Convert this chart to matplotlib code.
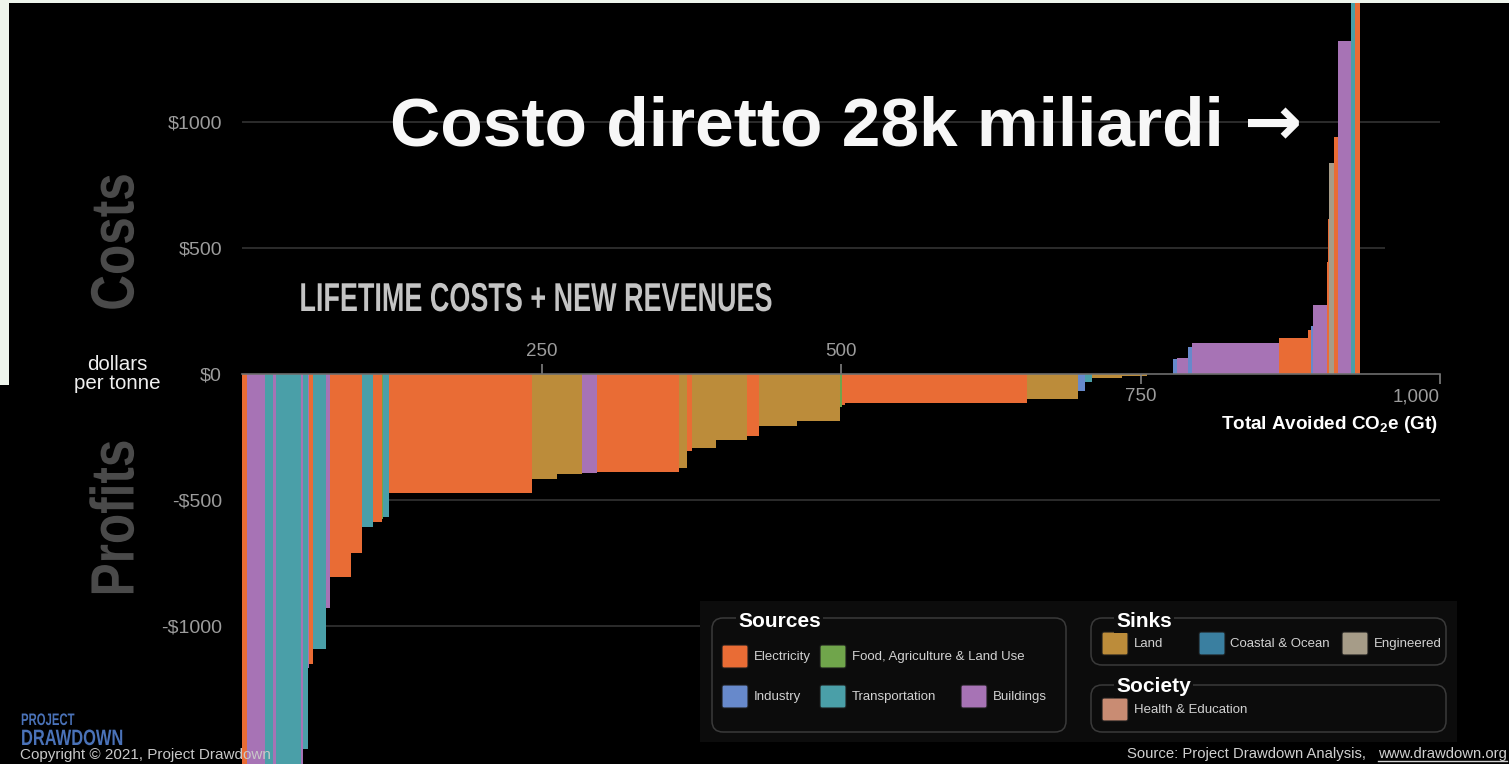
import numpy as np
import matplotlib
matplotlib.use("Agg")
import matplotlib.pyplot as plt
from matplotlib.patches import Rectangle, FancyBboxPatch
from matplotlib.lines import Line2D
from matplotlib.patheffects import AbstractPathEffect
from matplotlib.transforms import Affine2D

# ---------------------------------------------------------------- data
# Solutions ordered by net lifetime cost per tonne, each bar as wide as the
# CO2e it avoids (Gt) and as tall as its net cost in dollars per tonne.
categories = [
    "Electricity", "Buildings", "Transportation", "Buildings", "Transportation", "Buildings",
    "Transportation", "Buildings", "Electricity", "Transportation", "Buildings", "Electricity",
    "Electricity", "Transportation", "Electricity", "Food, Agriculture & Land Use", "Transportation",
    "Electricity", "Land", "Land", "Buildings", "Electricity", "Land", "Electricity", "Land", "Land",
    "Electricity", "Land", "Land", "Food, Agriculture & Land Use", "Electricity", "Electricity", "Land",
    "Industry", "Transportation", "Land", "Land", "Health & Education", "Industry", "Buildings",
    "Industry", "Buildings", "Electricity", "Electricity", "Industry", "Buildings", "Electricity",
    "Electricity", "Engineered", "Electricity", "Buildings", "Transportation", "Electricity",
]
avoided_gt = [
    4.4, 14.8, 6.9, 2.0, 20.9, 2.2, 3.9, 1.1, 3.3, 10.4, 3.6, 17.5, 8.9, 9.2, 7.5, 1.3, 5.1,
    119.3, 20.4, 21.4, 12.5, 68.4, 6.7, 3.7, 20.3, 26.1, 10.0, 31.2, 36.2, 1.4, 2.7, 151.7, 42.6,
    6.1, 6.1, 24.5, 20.9, 21.7, 3.3, 9.4, 3.1, 73.2, 24.2, 2.3, 1.9, 11.1, 1.4, 0.8, 4.2, 3.3,
    10.6, 3.4, 4.1,
]
net_cost_per_tonne = [
    -2100, -2300, -2000, -1900, -2200, -1800, -1492, -1168, -1154, -1095, -929, -808, -711,
    -611, -588, -576, -569, -476, -419, -399, -394, -390, -375, -306, -297, -264, -248, -207,
    -187, -134, -125, -117, -101, -68, -35, -17, -11, 0, 56, 62, 105, 122, 140, 174, 187, 270,
    443, 615, 834, 937, 1321, 1900, 2200,
]

sources = ["Electricity", "Food, Agriculture & Land Use", "Industry", "Transportation", "Buildings"]
sinks = ["Land", "Coastal & Ocean", "Engineered"]
society = ["Health & Education"]

y_ticks = [1000, 500, 0, -500, -1000]
y_tick_labels = [r"\$1000", r"\$500", r"\$0", r"-\$500", r"-\$1000"]
x_ticks_above = [250, 500]
x_ticks_below = [750, 1000]

palette = {
    "Electricity": "#E96C35",
    "Food, Agriculture & Land Use": "#70A54B",
    "Industry": "#6789CB",
    "Transportation": "#4A9FA8",
    "Buildings": "#A773B5",
    "Land": "#BC8C3A",
    "Coastal & Ocean": "#3A7FA0",
    "Engineered": "#A69C88",
    "Health & Education": "#C98C73",
}

# ---------------------------------------------------------------- style
W, H, DPI = 1509, 764, 100
plt.rcParams["font.family"] = ["Liberation Sans", "DejaVu Sans"]
plt.rcParams["mathtext.fontset"] = "custom"
plt.rcParams["mathtext.rm"] = "Liberation Sans:bold"
plt.rcParams["mathtext.it"] = "Liberation Sans:bold"
plt.rcParams["mathtext.bf"] = "Liberation Sans:bold"

GRID = "#383838"
AXIS = "#6e6e6e"
TICK_TXT = "#9c9c9c"
LEG_BG = "#0c0c0c"


class Squeeze(AbstractPathEffect):
    """Scale rendered glyph outlines about the text anchor (condensed type)."""

    def __init__(self, text, sx=1.0, sy=1.0):
        super().__init__()
        self._text, self._sx, self._sy = text, sx, sy

    def draw_path(self, renderer, gc, tpath, affine, rgbFace=None):
        x0, y0 = self._text.get_transform().transform(self._text.get_position())
        squeeze = Affine2D().translate(-x0, -y0).scale(self._sx, self._sy).translate(x0, y0)
        renderer.draw_path(gc, tpath, affine + squeeze, rgbFace)


fig = plt.figure(figsize=(W / DPI, H / DPI), dpi=DPI, facecolor="black")
# pixel coordinates measured from the top-left corner
PIX = Affine2D().scale(1 / DPI, -1 / DPI).translate(0, H / DPI) + fig.dpi_scale_trans

# thin pale frame on the top and left edges
fig.add_artist(Rectangle((0, 0), W, 3, transform=PIX, color="#eef5ec", lw=0))
fig.add_artist(Rectangle((0, 0), 9, 385, transform=PIX, color="#eef5ec", lw=0))

# ---------------------------------------------------------------- axes
zero_px, px_per_dollar = 373.5, 0.252
ax = fig.add_axes([242 / W, 0, 1198 / W, 761 / H])
ax.set_facecolor("black")
ax.set_xlim(0, 1000)
ax.set_ylim(-(H - zero_px) / px_per_dollar, (zero_px - 3) / px_per_dollar)

widths = np.asarray(avoided_gt)
lefts = np.concatenate([[0.0], np.cumsum(widths)[:-1]])
ax.bar(lefts, net_cost_per_tonne, width=widths, align="edge",
       color=[palette[c] for c in categories], linewidth=0, zorder=1)

# horizontal guides
for yv, xmax in [(1000, 1000), (500, 954), (-500, 1000), (-1000, 1000)]:
    ax.hlines(yv, 0, xmax, color=GRID, lw=1.1, zorder=0.5)

for side in ["top", "left", "right"]:
    ax.spines[side].set_visible(False)
ax.spines["bottom"].set_position(("data", 0))
ax.spines["bottom"].set_color(AXIS)
ax.spines["bottom"].set_linewidth(1.2)

ax.set_xticks(x_ticks_below)
ax.set_xticks(x_ticks_above, minor=True)
ax.tick_params(axis="x", which="major", direction="out", length=7.5, width=1.1,
               color="#8a8a8a", labelbottom=False)
ax.tick_params(axis="x", which="minor", direction="in", length=7.5, width=1.1,
               color="#8a8a8a", labelbottom=False)
for xv in x_ticks_above:
    ax.annotate(f"{xv:,}", (xv, 0), xytext=(0, 21.5), textcoords="offset pixels",
                ha="center", va="center", fontsize=13.5, color=TICK_TXT)
for xv in x_ticks_below:
    ax.annotate(f"{xv:,}", (xv, 0), xytext=(0, -23), textcoords="offset pixels",
                ha="right" if xv == max(x_ticks_below) else "center", va="center",
                fontsize=13.5, color=TICK_TXT)

ax.set_yticks(y_ticks)
ax.set_yticklabels(y_tick_labels)
ax.tick_params(axis="y", length=0, pad=14.4, labelsize=14, labelcolor=TICK_TXT)

# ---------------------------------------------------------------- texts
fig.text(1438, 429, r"Total Avoided CO$_2$e (Gt)", transform=PIX, ha="right",
         va="baseline", fontsize=13.6, fontweight="bold", color="white")

fig.text(117, 370, "dollars", transform=PIX, ha="center", va="baseline",
         fontsize=14.8, color="#f0f0f0")
fig.text(117, 389, "per tonne", transform=PIX, ha="center", va="baseline",
         fontsize=14.8, color="#f0f0f0")

for word, cy in [("Costs", 242), ("Profits", 518)]:
    t = fig.text(118, cy, word, transform=PIX, rotation=90, ha="center", va="center",
                 fontsize=44, fontweight="bold", color="#4a4a4a")
    t.set_path_effects([Squeeze(t, sy=0.81)])

t = fig.text(536, 311, "LIFETIME COSTS + NEW REVENUES", transform=PIX, ha="center",
             va="baseline", fontsize=29, fontweight="bold", color="#c4c4c4")
t.set_path_effects([Squeeze(t, sx=0.67)])

fig.text(390, 145, "Costo diretto 28k miliardi", transform=PIX, ha="left",
         va="baseline", fontsize=50, fontweight="bold", color="#f7f7f7")
fig.text(1244, 145, "\u2192", transform=PIX, ha="left", va="baseline",
         fontsize=50, fontweight="bold", family="DejaVu Sans", color="#f7f7f7")

# ---------------------------------------------------------------- legend
fig.add_artist(Rectangle((700, 601), 757, 141, transform=PIX, color=LEG_BG, lw=0))

group_boxes = {
    "Sources": (712, 618, 354, 114, 738, 627),
    "Sinks": (1091, 618, 355, 47, 1116, 627),
    "Society": (1091, 685, 355, 47, 1116, 692),
}
for title, (bx, by, bw, bh, tx, ty) in group_boxes.items():
    fig.add_artist(FancyBboxPatch((bx, by), bw, bh, transform=PIX,
                                  boxstyle="round,pad=0,rounding_size=11",
                                  facecolor="none", edgecolor="#3a3a3a", lw=1.1))
    fig.text(tx, ty, title, transform=PIX, ha="left", va="baseline", fontsize=15,
             fontweight="bold", color="white",
             bbox=dict(facecolor=LEG_BG, edgecolor="none", pad=1.5))

swatch_pos = {
    "Electricity": (722, 645), "Food, Agriculture & Land Use": (820, 645),
    "Industry": (722, 685), "Transportation": (820, 685), "Buildings": (961, 685),
    "Land": (1102, 632), "Coastal & Ocean": (1199, 632), "Engineered": (1342, 632),
    "Health & Education": (1102, 698),
}
for name in sources + sinks + society:
    sx, sy = swatch_pos[name]
    fig.add_artist(FancyBboxPatch((sx, sy), 26, 23, transform=PIX,
                                  boxstyle="round,pad=0,rounding_size=2",
                                  facecolor=palette[name], edgecolor="#1c1c1c", lw=0.8))
    fig.text(sx + 31.5, sy + 12, name, transform=PIX, ha="left", va="center",
             fontsize=9.5, color="#d2d2d2")

# ---------------------------------------------------------------- footer
t = fig.text(21, 725, "PROJECT", transform=PIX, ha="left", va="baseline",
             fontsize=12, fontweight="bold", color="#4a72b8")
t.set_path_effects([Squeeze(t, sx=0.68)])
t = fig.text(21, 745, "DRAWDOWN", transform=PIX, ha="left", va="baseline",
             fontsize=16, fontweight="bold", color="#4a72b8")
t.set_path_effects([Squeeze(t, sx=0.74)])
fig.text(20, 759, "Copyright \u00a9 2021, Project Drawdown", transform=PIX, ha="left",
         va="baseline", fontsize=11, color="#c8c8c8")

fig.text(1127, 758, "Source: Project Drawdown Analysis,", transform=PIX, ha="left",
         va="baseline", fontsize=10.7, color="#d0d0d0")
url = fig.text(1378, 758, "www.drawdown.org", transform=PIX, ha="left",
               va="baseline", fontsize=10.7, color="#d0d0d0")

fig.canvas.draw()
bb = url.get_window_extent()
(ux0, _), (ux1, _) = PIX.inverted().transform([[bb.x0, bb.y0], [bb.x1, bb.y0]])
fig.add_artist(Line2D([ux0, min(ux1, W)], [761, 761], transform=PIX,
                      color="#d0d0d0", lw=1))

fig.savefig("out.png", dpi=DPI, facecolor="black")
